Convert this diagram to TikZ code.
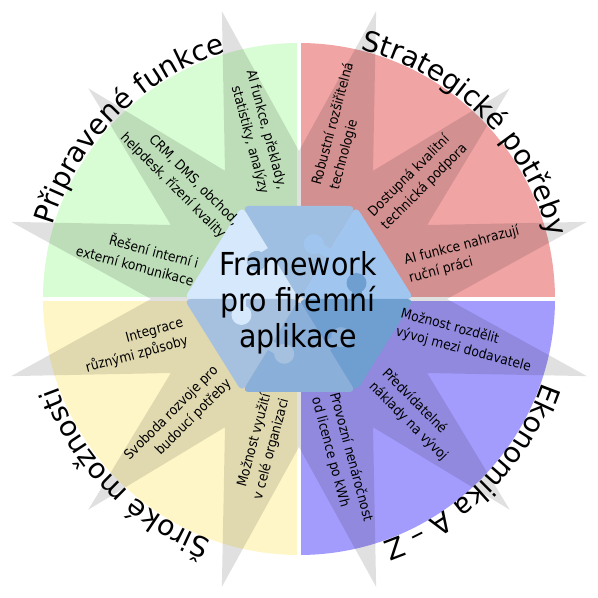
\documentclass[tikz,border=0pt]{standalone}
\usepackage{fontspec}
\setmainfont{DejaVu Sans}
\newfontfamily\condensed{DejaVu Sans Condensed}
\usepackage{xcolor}
\usetikzlibrary{decorations.text}
\definecolor{fwgreen}{HTML}{D8FCD3}
\definecolor{fwred}{HTML}{F1A4A4}
\definecolor{fwviolet}{HTML}{A49CFD}
\definecolor{fwyellow}{HTML}{FFF6C8}
\definecolor{pieceA}{HTML}{A0C6F0}
\definecolor{pieceB}{HTML}{9EBFE2}
\definecolor{pieceC}{HTML}{D5E8FC}
\definecolor{pieceD}{HTML}{A6C1E0}
\definecolor{pieceE}{HTML}{8AAFD8}
\definecolor{pieceF}{HTML}{6F9FD1}
\tikzset{
  quarter/.style  = {fill=#1, draw=none},
  gap/.style      = {draw=white, line width=2.6pt},
  rays/.style     = {fill=black, fill opacity=0.12},
  piece/.style    = {fill=#1, rounded corners=4pt},
  idea/.style     = {font=\condensed\fontsize{7.8}{10.6}\selectfont, inner sep=1pt},
  ideain/.style   = {idea, align=right},
  ideaout/.style  = {idea, align=left},
  core/.style     = {font=\condensed\fontsize{18}{20.6}\selectfont, align=center, inner sep=0pt},
  arclabel/.style = {decorate, decoration={text along path, text align=center,
                     text={|\fontsize{16}{19}\selectfont|#1}}}
}

\begin{document}
\begin{tikzpicture}[x=0.02cm,y=0.02cm]
\useasboundingbox (-299,-299) rectangle (299,299);

% --- the four quarters ----------------------------------------------------
\fill[quarter=fwgreen]  (0,0) -- (180:256) arc[start angle=180, end angle=90,  radius=256] -- cycle;
\fill[quarter=fwred]    (0,0) -- (90:256)  arc[start angle=90,  end angle=0,   radius=256] -- cycle;
\fill[quarter=fwviolet] (0,0) -- (0:256)   arc[start angle=0,   end angle=-90, radius=256] -- cycle;
\fill[quarter=fwyellow] (0,0) -- (270:256) arc[start angle=270, end angle=180, radius=256] -- cycle;
\draw[gap] (-262,0) -- (262,0);
\draw[gap] (0,-262) -- (0,262);

% --- star of twelve rays --------------------------------------------------
\fill[rays] (0:148) \foreach \k in {0,...,11} { -- ({30*\k+15}:298) -- ({30*\k+30}:148) } -- cycle;

% --- hexagon of puzzle pieces ---------------------------------------------
\coordinate (h0) at (115,0);
\coordinate (h1) at (57,93);
\coordinate (h2) at (-57,93);
\coordinate (h3) at (-115,0);
\coordinate (h4) at (-57,-93);
\coordinate (h5) at (57,-93);
\fill[piece=pieceA] (0,0) -- (h0) -- (h1) -- cycle;
\fill[piece=pieceB] (0,0) -- (h1) -- (h2) -- cycle;
\fill[piece=pieceC] (0,0) -- (h2) -- (h3) -- cycle;
\fill[piece=pieceD] (0,0) -- (h3) -- (h4) -- cycle;
\fill[piece=pieceE] (0,0) -- (h4) -- (h5) -- cycle;
\fill[piece=pieceF] (0,0) -- (h5) -- (h0) -- cycle;
\foreach \ang/\len/\col in {58.5/109/pieceA, 121.5/109/pieceB, 180/115/pieceC,
                            238.5/109/pieceD, 301.5/109/pieceE, 360/115/pieceF} {
  \begin{scope}[rotate=\ang]
    \fill[\col] ({\len/2-5},-3) rectangle ({\len/2+5},8);
    \fill[\col] ({\len/2},16) circle[radius=10];
  \end{scope}
}

% --- Připravené funkce ----------------------------------------------------
\node[ideain, rotate=-75] (aitools)  at (104:172) {AI funkce, překlady,\\statistiky, analýzy};
\node[ideain, rotate=-45] (crm)      at (135:169) {CRM, DMS, obchod,\\helpdesk, řízení kvality};
\node[ideain, rotate=-15] (comms)    at (165:167) {Řešení interní i\\externí komunikace};

% --- Strategické potřeby --------------------------------------------------
\node[ideaout, rotate=75] (robust)   at (76:178) {Robustní rozšiřitelná\\technologie};
\node[ideaout, rotate=45] (support)  at (45:168) {Dostupná kvalitní\\technická podpora};
\node[ideaout, rotate=15] (aiwork)   at (15:171) {AI funkce nahrazují\\ruční práci};

% --- Ekonomika A – Z ------------------------------------------------------
\node[ideaout, rotate=-15] (vendors) at (-14:172) {Možnost rozdělit\\vývoj mezi dodavatele};
\node[ideaout, rotate=-45] (costs)   at (-45:164) {Předvídatelné\\náklady na vývoj};
\node[ideaout, rotate=-75] (running) at (-75:166) {Provozní nenáročnost\\od licence po kWh};

% --- Široké možnosti ------------------------------------------------------
\node[ideain, rotate=15] (integ)     at (196:171) {Integrace\\různými způsoby};
\node[ideain, rotate=45] (freedom)   at (225:171) {Svoboda rozvoje pro\\budoucí potřeby};
\node[ideain, rotate=75] (wholeorg)  at (256:152) {Možnost využití\\v celé organizaci};

% --- centre ---------------------------------------------------------------
\node[core] (framework) at (-1,-4) {Framework\\pro firemní\\aplikace};

% --- labels round the rim -------------------------------------------------
\path[arclabel={Připravené funkce}]   (180:257) arc[start angle=180, end angle=90,  radius=257];
\path[arclabel={Strategické potřeby}] (90:257)  arc[start angle=90,  end angle=0,   radius=257];
\path[arclabel={Ekonomika A – Z}]     (0:257)   arc[start angle=0,   end angle=-90, radius=257];
\path[arclabel={Široké možnosti}]     (270:257) arc[start angle=270, end angle=180, radius=257];

\end{tikzpicture}
\end{document}
